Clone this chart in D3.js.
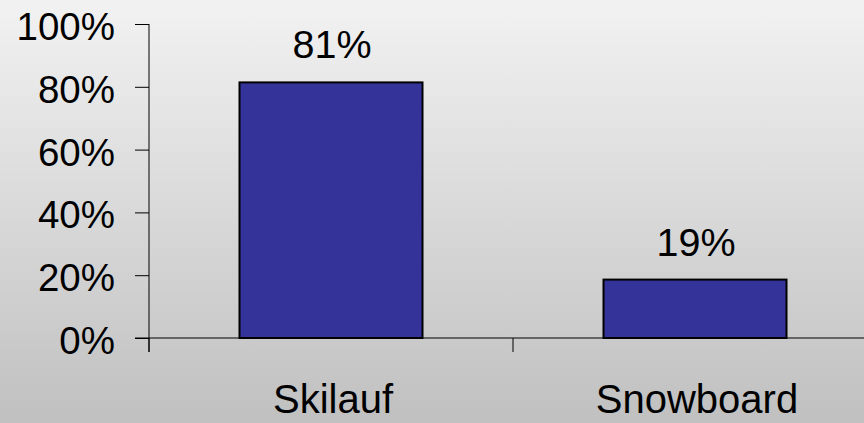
<!DOCTYPE html>
<html>
<head>
<meta charset="utf-8">
<script src="https://cdn.jsdelivr.net/npm/d3@7"></script>
<style>
html,body{margin:0;padding:0;overflow:hidden;}
svg{display:block;}
text{font-family:"Liberation Sans",Arial,sans-serif;fill:#000;}
</style>
</head>
<body>
<script>
const categories = ["Skilauf", "Snowboard"];
const values = [0.814, 0.186];
const yTicks = [0, 0.2, 0.4, 0.6, 0.8, 1.0];

const W = 864, H = 423;
const svg = d3.select("body").append("svg").attr("width", W).attr("height", H);

const defs = svg.append("defs");
const grad = defs.append("linearGradient").attr("id", "bg").attr("x1", 0).attr("y1", 0).attr("x2", 0).attr("y2", 1);
grad.append("stop").attr("offset", "0%").attr("stop-color", "#f2f2f2");
grad.append("stop").attr("offset", "100%").attr("stop-color", "#c0c0c0");
svg.append("rect").attr("width", W).attr("height", H).attr("fill", "url(#bg)");

const x0 = 149, bandW = 364;
const x = d3.scaleBand().domain(categories).range([x0, x0 + bandW * categories.length]).paddingInner(0).paddingOuter(0);
const y = d3.scaleLinear().domain([0, 1]).range([338, 24]);
const fmt = d3.format(".0%");
const barW = 183;
const FS = 40;

// Y axis
const gy = svg.append("g").attr("transform", `translate(${x0},0)`)
  .call(d3.axisLeft(y).tickValues(yTicks).tickFormat(fmt).tickSize(14).tickSizeOuter(0).tickPadding(20));
gy.select(".domain").attr("stroke", "#000").attr("d", `M0,${y(1)}V${y(0) + 14}`);
gy.selectAll(".tick line").attr("stroke", "#000");
gy.selectAll(".tick text").attr("font-size", 38.5).attr("dy", "0.4em")
  .style("font-family", '"Liberation Sans",Arial,sans-serif');

// X axis
const gx = svg.append("g").attr("transform", `translate(0,${y(0)})`);
gx.append("line").attr("x1", x0 - 14).attr("x2", W).attr("y1", 0).attr("y2", 0).attr("stroke", "#000");
const xTickPos = categories.map(c => x(c)).concat([x0 + bandW * categories.length]);
gx.selectAll("line.xt").data(xTickPos).enter().append("line").attr("class", "xt")
  .attr("x1", d => d).attr("x2", d => d).attr("y1", 0).attr("y2", 14).attr("stroke", "#000");
gx.selectAll("text.xl").data(categories).enter().append("text").attr("class", "xl")
  .attr("x", d => x(d) + x.bandwidth() / 2 + 2).attr("y", 75)
  .attr("text-anchor", "middle").attr("font-size", FS).text(d => d);

// Bars
svg.selectAll("rect.bar").data(values).enter().append("rect").attr("class", "bar")
  .attr("x", (d, i) => x(categories[i]) + x.bandwidth() / 2 - barW / 2)
  .attr("width", barW)
  .attr("y", d => y(d))
  .attr("height", d => y(0) - y(d))
  .attr("fill", "#333399").attr("stroke", "#000").attr("stroke-width", 2);

// Value labels
svg.selectAll("text.val").data(values).enter().append("text").attr("class", "val")
  .attr("x", (d, i) => x(categories[i]) + x.bandwidth() / 2 + 1)
  .attr("y", d => y(d) - 24)
  .attr("text-anchor", "middle").attr("font-size", 39.5).text(d => fmt(d));
</script>
</body>
</html>
